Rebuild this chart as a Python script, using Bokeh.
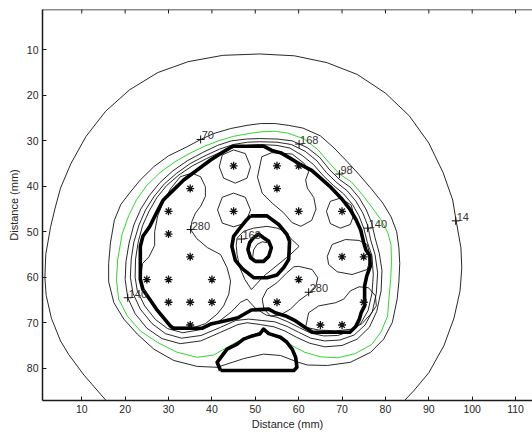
from bokeh.plotting import figure
from bokeh.models import Range1d, LinearAxis, FixedTicker, Span
from bokeh.embed import file_html
from bokeh.resources import INLINE
from bokeh.core.properties import value

# ---- axes -------------------------------------------------------------
X_TICKS = [10, 20, 30, 40, 50, 60, 70, 80, 90, 100, 110]
Y_TICKS = [10, 20, 30, 40, 50, 60, 70, 80]
AXIS_LABEL = "Distance (mm)"
X_LIM = (0.95, 113.9)
Y_LIM = (87.1, 1.12)

# ---- anatomy outlines (mm) ---------------------------------------------
PROSTATE = [(42.3, 32.6), (44.8, 31.2), (52.0, 31.2), (54.0, 32.2), (55.8, 32.6), (58.0, 33.8),
            (60.0, 35.0), (63.0, 36.5), (65.5, 38.6), (67.5, 40.3), (69.8, 42.6), (71.8, 45.0),
            (73.2, 47.3), (74.3, 49.6), (75.0, 52.4), (75.5, 54.0), (76.4, 55.2), (76.5, 57.6),
            (75.7, 59.7), (75.2, 61.9), (75.2, 66.3), (74.4, 67.8), (74.0, 69.2), (73.1, 70.9),
            (71.8, 72.1), (63.2, 72.1), (61.4, 71.0), (59.3, 69.6), (57.0, 68.5), (54.6, 67.8),
            (53.1, 67.0), (49.1, 67.2), (46.0, 68.9), (42.9, 69.6), (39.7, 70.3), (37.8, 71.2),
            (31.0, 71.2), (30.4, 70.7), (27.2, 67.0), (25.7, 64.9), (24.1, 62.7), (23.5, 60.5),
            (23.5, 53.2), (24.1, 51.0), (25.7, 48.8), (27.2, 45.9), (28.8, 43.0), (30.4, 41.5),
            (33.5, 38.6), (36.6, 36.4), (39.7, 34.2), (42.3, 32.6)]
URETHRA_OUTER = [(48.9, 46.5), (52.7, 46.5), (55.4, 48.4), (57.3, 50.6), (57.9, 52.1), (57.7, 56.1),
                 (56.6, 57.8), (55.0, 59.5), (52.7, 60.1), (49.6, 60.1), (47.0, 58.1), (45.4, 56.3),
                 (44.6, 53.2), (45.0, 51.0), (46.2, 49.5), (47.7, 47.7), (48.9, 46.5)]
URETHRA_INNER = [(49.6, 51.3), (50.8, 50.5), (51.9, 51.3), (53.1, 52.1), (53.7, 53.5), (53.1, 55.4),
                 (51.9, 56.5), (50.0, 56.5), (48.9, 55.7), (48.3, 53.9), (48.7, 52.4), (49.6, 51.3)]
RECTUM = [(42.0, 80.5), (41.2, 78.7), (43.5, 75.8), (45.8, 74.7), (47.3, 73.6), (49.3, 72.9),
          (51.0, 72.5), (51.9, 71.4), (53.1, 72.4), (55.8, 73.2), (57.3, 74.3), (58.5, 75.8),
          (59.3, 77.6), (59.6, 79.8), (58.9, 80.5), (42.0, 80.5)]

# ---- seed positions (mm) ------------------------------------------------
SEED_X = [45, 55, 60, 35, 55, 30, 45, 60, 70, 30, 35, 70, 75, 25, 30, 40, 60, 30, 35, 40, 55, 75, 35, 65, 70]
SEED_Y = [35.5, 35.5, 35.5, 40.5, 40.5, 45.5, 45.5, 45.5, 45.5, 50.5, 55.5, 55.5, 55.5,
          60.5, 60.5, 60.5, 60.5, 65.5, 65.5, 65.5, 65.5, 65.5, 70.5, 70.5, 70.5]

# ---- isodose lines (mm) -------------------------------------------------
ISO_14 = [(15.6, 87.1), (10.5, 81.5), (7.0, 77.0), (5.1, 74.0), (3.0, 69.0), (1.8, 64.0), (1.5, 60.1),
          (1.7, 55.0), (2.8, 49.0), (3.8, 45.0), (5.1, 40.4), (7.5, 35.0), (11.0, 29.0), (15.5, 23.5),
          (21.0, 18.8), (27.5, 15.0), (34.5, 12.6), (42.5, 11.2), (51.0, 10.9), (59.0, 11.3),
          (66.5, 12.8), (73.5, 15.4), (80.0, 19.5), (85.5, 24.5), (90.0, 30.5), (93.3, 37.0),
          (95.5, 43.0), (96.3, 47.6), (97.4, 53.5), (97.6, 58.0), (97.2, 63.0), (95.8, 69.0),
          (93.5, 75.0), (90.0, 81.0), (86.5, 85.0), (84.4, 87.1)]
ISO_70 = [(51.2, 26.2), (54.6, 26.2), (57.7, 26.6), (61.0, 27.2), (65.0, 28.9), (68.2, 31.6),
          (71.3, 34.7), (74.0, 37.5), (76.7, 40.5), (79.4, 43.7), (81.3, 46.7), (82.6, 50.0),
          (83.1, 53.5), (83.3, 57.0), (83.1, 61.0), (82.7, 64.8), (81.6, 69.9), (79.6, 73.6),
          (76.6, 76.5), (71.9, 78.7), (66.6, 79.4), (62.0, 79.3), (59.6, 78.6), (55.8, 77.2),
          (51.9, 76.9), (47.3, 77.9), (41.2, 79.8), (36.6, 79.6), (31.2, 78.3), (26.6, 75.8),
          (22.8, 72.5), (19.7, 69.2), (17.4, 65.6), (16.2, 61.0), (16.2, 57.0), (16.6, 52.5),
          (17.5, 47.5), (19.0, 44.0), (21.0, 41.5), (23.5, 38.6), (26.6, 35.7), (30.0, 33.3),
          (34.3, 31.3), (37.4, 29.7), (40.4, 28.4), (44.3, 27.3), (48.1, 26.6), (51.2, 26.2)]
ISO_98 = [(57.5, 28.3), (61.3, 29.6), (64.5, 32.0), (67.0, 34.8), (69.4, 37.3), (72.1, 39.0),
          (74.4, 41.5), (76.8, 44.5), (79.0, 47.4), (80.6, 50.3), (81.3, 53.0), (81.4, 56.5),
          (81.2, 60.5), (80.8, 64.8), (80.5, 68.5), (79.0, 72.0), (76.8, 74.8), (73.0, 76.8),
          (69.0, 77.7), (65.0, 77.5), (61.4, 76.5), (58.0, 74.8), (55.5, 73.4), (53.0, 72.5),
          (51.9, 71.8), (49.5, 72.6), (47.3, 73.5), (45.0, 74.6), (43.0, 75.7), (40.4, 77.1),
          (36.6, 77.6), (32.0, 76.5), (27.4, 74.3), (23.5, 71.8), (20.5, 68.5), (18.5, 64.8),
          (18.0, 60.5), (18.3, 56.0), (19.3, 50.5), (20.8, 46.5), (22.6, 43.0), (25.0, 39.8),
          (28.0, 37.0), (31.5, 34.6), (35.0, 32.7), (38.3, 31.2), (41.5, 30.0), (45.0, 29.0),
          (48.5, 28.4), (51.5, 28.0), (54.6, 27.9), (57.5, 28.3)]
ISO_140 = [(51.0, 29.5), (55.0, 29.6), (58.5, 30.0), (62.0, 31.5), (64.8, 33.6), (67.0, 36.2),
           (69.4, 38.5), (71.9, 40.2), (74.0, 42.6), (75.6, 45.2), (76.8, 48.0), (77.6, 51.3),
           (78.6, 54.8), (79.2, 58.5), (79.0, 63.0), (78.0, 67.5), (76.3, 71.0), (73.5, 73.6),
           (70.0, 75.0), (66.0, 75.3), (62.5, 74.5), (59.5, 73.2), (56.8, 71.8), (54.3, 70.9),
           (51.2, 70.4), (48.1, 70.0), (46.0, 70.4), (42.0, 72.1), (37.4, 74.0), (32.7, 74.6),
           (28.5, 73.5), (25.0, 71.2), (22.3, 68.0), (20.6, 64.5), (20.0, 60.5), (20.2, 56.5),
           (20.9, 52.5), (22.0, 48.5), (23.6, 45.0), (25.6, 42.0), (28.0, 39.2), (31.0, 36.6),
           (34.3, 34.4), (37.8, 32.6), (41.3, 31.0), (44.5, 30.0), (48.0, 29.6), (51.0, 29.5)]
ISO_168 = [(51.0, 30.2), (55.0, 30.3), (58.3, 30.8), (61.5, 32.3), (64.2, 34.4), (66.4, 37.0),
           (68.8, 39.2), (71.2, 41.0), (73.2, 43.3), (74.8, 45.9), (75.9, 48.6), (76.6, 51.8),
           (77.6, 55.0), (78.2, 59.0), (77.9, 63.5), (77.0, 67.5), (75.3, 70.5), (72.8, 72.7),
           (69.5, 73.8), (66.0, 74.0), (62.8, 73.4), (60.0, 72.1), (57.3, 70.8), (54.5, 69.8),
           (51.5, 69.5), (48.5, 69.2), (45.5, 69.5), (42.0, 71.0), (37.5, 72.8), (33.0, 73.4),
           (29.3, 72.4), (26.2, 70.2), (23.5, 67.0), (21.8, 63.5), (21.2, 60.0), (21.4, 56.0),
           (22.0, 52.3), (23.2, 48.5), (24.7, 45.2), (26.7, 42.2), (29.0, 39.5), (31.9, 37.1),
           (35.0, 35.0), (38.4, 33.3), (41.8, 31.8), (45.0, 30.8), (48.2, 30.3), (51.0, 30.2)]
ISO_196 = [(51.0, 30.8), (55.0, 31.0), (58.0, 31.6), (60.8, 33.2), (63.4, 35.2), (65.7, 37.7),
           (68.0, 39.8), (70.4, 41.7), (72.4, 44.0), (73.9, 46.5), (75.0, 49.2), (75.8, 52.2),
           (76.9, 55.3), (77.2, 59.5), (76.9, 63.5), (76.0, 67.3), (74.4, 70.0), (72.2, 71.8),
           (69.0, 72.8), (65.8, 72.9), (62.8, 72.3), (60.2, 71.1), (57.5, 69.8), (55.0, 68.8),
           (52.5, 68.3), (50.0, 66.8), (48.1, 64.8), (46.6, 65.5), (44.5, 67.6), (41.5, 69.8),
           (37.5, 71.5), (33.3, 72.2), (29.8, 71.3), (27.0, 69.3), (24.5, 66.3), (22.8, 63.0),
           (22.3, 60.0), (22.4, 56.0), (23.0, 52.3), (24.0, 48.7), (25.5, 45.5), (27.3, 42.5),
           (29.6, 39.8), (32.4, 37.5), (35.5, 35.5), (38.8, 33.9), (42.0, 32.5), (45.0, 31.5),
           (48.2, 31.0), (51.0, 30.8)]

# 280 isodose islands around the seed clusters
ISO_280 = [
    [(42.4, 33.1), (45.0, 32.0), (47.7, 32.8), (48.9, 35.7), (48.1, 38.2), (45.4, 39.3),
     (42.7, 38.2), (41.7, 35.7), (42.4, 33.1)],
    [(45.0, 41.5), (47.7, 42.4), (48.9, 45.2), (47.7, 48.1), (45.0, 48.9), (42.4, 48.1),
     (41.3, 45.2), (42.4, 42.4), (45.0, 41.5)],
    [(51.5, 33.5), (53.8, 32.6), (58.5, 32.9), (61.3, 35.0), (62.3, 36.8), (61.6, 38.6),
     (62.0, 40.4), (63.5, 42.5), (64.0, 45.0), (63.0, 47.5), (60.5, 48.8), (58.5, 48.0),
     (56.5, 45.8), (53.9, 43.7), (51.6, 41.5), (50.5, 38.0), (51.5, 33.5)],
    [(69.6, 42.6), (72.1, 44.1), (72.7, 46.3), (71.9, 48.4), (69.6, 49.2), (67.3, 48.2),
     (66.4, 45.5), (67.3, 43.3), (69.6, 42.6)],
    [(66.6, 55.4), (67.7, 52.8), (70.8, 51.7), (73.9, 51.9), (75.8, 52.8), (76.6, 55.7),
     (75.8, 58.3), (72.3, 59.4), (68.9, 58.8), (66.9, 57.2), (66.6, 55.4)],
    [(60.0, 57.6), (63.1, 58.3), (64.4, 60.1), (63.9, 62.3), (62.0, 63.8), (60.0, 65.2),
     (58.1, 67.0), (55.8, 68.3), (53.5, 68.5), (52.0, 67.0), (51.6, 64.8), (52.7, 62.7),
     (55.0, 61.2), (57.3, 59.0), (58.9, 57.7), (60.0, 57.6)],
    [(61.6, 71.0), (62.3, 67.8), (64.6, 66.3), (68.5, 65.6), (70.4, 64.8), (71.9, 63.0),
     (73.9, 62.1), (76.1, 62.3), (77.7, 64.1), (77.9, 66.3), (76.6, 68.1), (74.6, 70.2),
     (72.3, 71.4), (68.5, 71.8), (64.6, 71.6), (61.6, 71.0)],
    [(32.7, 37.9), (35.4, 37.1), (37.4, 37.9), (38.5, 40.1), (38.5, 42.2), (37.4, 44.4),
     (36.2, 45.9), (35.4, 47.7), (35.1, 49.5), (36.5, 51.5), (39.0, 53.5), (42.0, 55.0),
     (43.5, 57.9), (44.3, 60.8), (43.9, 63.7), (42.7, 66.3), (41.2, 68.1), (38.5, 70.2),
     (36.0, 71.0), (31.5, 71.0), (30.5, 70.6), (27.3, 67.0), (25.8, 65.0), (24.2, 62.8),
     (23.6, 60.0), (24.0, 57.0), (25.5, 55.5), (26.8, 53.0), (26.8, 50.0), (27.5, 46.5),
     (28.8, 43.5), (30.5, 40.5), (32.7, 37.9)],
]
# 168 isodose around the urethra, and the small arc inside its lumen
ISO_168_URETHRA = [(45.8, 51.4), (47.3, 49.9), (49.6, 49.2), (52.7, 48.8), (55.0, 49.2), (56.9, 49.9),
                   (58.1, 51.4), (60.1, 53.2), (58.1, 55.0), (55.0, 57.4), (51.9, 59.8), (49.1, 62.7),
                   (47.6, 60.5), (46.4, 57.8), (45.8, 55.0), (45.6, 53.0), (45.8, 51.4)]
ISO_LUMEN_ARC = [(49.4, 55.6), (49.6, 54.0), (50.4, 52.8), (51.6, 52.2), (52.8, 52.4)]

# ---- contour labels -------------------------------------------------------
LABEL_X = [37.4, 60.1, 69.4, 75.9, 96.2, 35.1, 46.8, 62.3, 20.6]
LABEL_Y = [29.7, 30.7, 37.3, 49.2, 47.6, 49.5, 51.6, 63.3, 64.5]
LABEL_TEXT = ["70", "168", "98", "140", "14", "280", "168", "280", "140"]

FONT = "Liberation Sans"
INK = "#1a1a1a"


def xs(pts):
    return [p[0] for p in pts]


def ys(pts):
    return [p[1] for p in pts]


p = figure(width=532, height=432, output_backend="svg", toolbar_location=None,
           x_range=Range1d(*X_LIM), y_range=Range1d(*Y_LIM),
           x_axis_location=None, y_axis_location=None,
           min_border_left=42, min_border_right=0, min_border_top=9, min_border_bottom=30)
p.grid.visible = False
p.outline_line_color = None
p.background_fill_color = "white"
p.border_fill_color = "white"

x_axis = LinearAxis(axis_label=AXIS_LABEL)
y_axis = LinearAxis(axis_label=AXIS_LABEL)
p.add_layout(x_axis, "below")
p.add_layout(y_axis, "left")

for ax, ticks in ((x_axis, X_TICKS), (y_axis, Y_TICKS)):
    ax.ticker = FixedTicker(ticks=ticks)
    ax.major_tick_in = 4
    ax.major_tick_out = 0
    ax.minor_tick_line_color = None
    ax.axis_line_width = 1.5
    ax.axis_line_color = INK
    ax.major_tick_line_color = INK
    ax.major_label_text_font = FONT
    ax.major_label_text_font_size = "10.5px"
    ax.major_label_text_color = "#262626"
    ax.axis_label_text_font = FONT
    ax.axis_label_text_font_size = "11px"
    ax.axis_label_text_font_style = "normal"
    ax.axis_label_text_color = "#262626"
    ax.major_label_standoff = 4
x_axis.axis_label_standoff = 2
y_axis.axis_label_standoff = 4

# top edge of the box with its inward ticks
p.add_layout(Span(location=Y_LIM[1], dimension="width", line_color=INK, line_width=1.5))
tick_len = 4 / 4.57
p.segment(x0=X_TICKS, x1=X_TICKS, y0=[Y_LIM[1]] * len(X_TICKS),
          y1=[Y_LIM[1] + tick_len] * len(X_TICKS), line_color=INK, line_width=1)

THIN = dict(line_color="#111111", line_width=0.9)

p.line(xs(ISO_14), ys(ISO_14), **THIN)
p.line(xs(ISO_70), ys(ISO_70), **THIN)
p.line(xs(ISO_98), ys(ISO_98), line_color="#19d219", line_width=0.9)
for loop in (ISO_140, ISO_168, ISO_196, ISO_168_URETHRA, ISO_LUMEN_ARC):
    p.line(xs(loop), ys(loop), **THIN)
for loop in ISO_280:
    p.line(xs(loop), ys(loop), **THIN)

for shape in (PROSTATE, URETHRA_OUTER, URETHRA_INNER, RECTUM):
    p.line(xs(shape), ys(shape), line_color="black", line_width=3.6, line_join="round")

p.scatter(SEED_X, SEED_Y, marker="asterisk", size=8, line_color="#111111", line_width=1.3)

p.scatter(LABEL_X, LABEL_Y, marker="cross", size=8, line_color="#111111", line_width=1)
p.text(LABEL_X, LABEL_Y, text=LABEL_TEXT, text_font=value(FONT), text_font_size="11px",
       text_color="#333333", text_align="left", text_baseline="bottom", x_offset=1)

open("out.html", "w").write(file_html(p, INLINE))
